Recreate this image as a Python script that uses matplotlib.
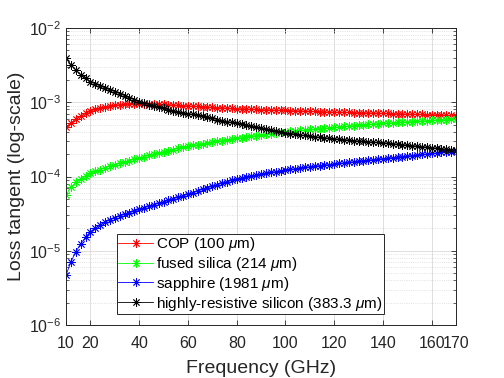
import numpy as np
import matplotlib
matplotlib.use("Agg")
import matplotlib.pyplot as plt
from matplotlib.ticker import LogLocator, NullFormatter, FixedLocator

plt.rcParams['font.family'] = ['Liberation Sans', 'DejaVu Sans']
plt.rcParams['mathtext.fontset'] = 'custom'
plt.rcParams['mathtext.rm'] = 'Liberation Sans'
plt.rcParams['mathtext.it'] = 'Liberation Sans:italic'

freq = np.arange(10, 171, 2)  # GHz

cop = [4.6, 5.3, 5.95, 6.5, 7.1, 7.6, 8.0, 8.35, 8.65, 8.9, 9.1, 9.3, 9.45, 9.55, 9.6, 9.6,
       9.58, 9.55, 9.5, 9.42, 9.35, 9.27, 9.19, 9.11, 9.03, 8.95, 8.87, 8.79, 8.71, 8.63, 8.55,
       8.48, 8.41, 8.34, 8.27, 8.2, 8.15, 8.1, 8.05, 8.0, 7.95, 7.91, 7.87, 7.83, 7.79, 7.75,
       7.71, 7.67, 7.63, 7.59, 7.55, 7.51, 7.47, 7.43, 7.39, 7.35, 7.33, 7.31, 7.29, 7.27, 7.25,
       7.22, 7.19, 7.16, 7.13, 7.1, 7.07, 7.04, 7.01, 6.98, 6.95, 6.92, 6.89, 6.86, 6.83, 6.8,
       6.76, 6.72, 6.68, 6.64, 6.6]  # x1e-4

fused_silica = [0.56, 0.72, 0.84, 0.94, 1.03, 1.10, 1.17, 1.24, 1.31, 1.38, 1.45, 1.51, 1.58,
                1.64, 1.71, 1.78, 1.85, 1.93, 2.00, 2.08, 2.15, 2.23, 2.31, 2.39, 2.47, 2.55,
                2.62, 2.69, 2.76, 2.83, 2.90, 2.97, 3.05, 3.12, 3.20, 3.27, 3.34, 3.41, 3.49,
                3.56, 3.63, 3.70, 3.78, 3.85, 3.93, 4.00, 4.06, 4.12, 4.18, 4.24, 4.30, 4.36,
                4.42, 4.48, 4.54, 4.60, 4.66, 4.72, 4.78, 4.84, 4.90, 4.96, 5.02, 5.08, 5.14,
                5.20, 5.25, 5.30, 5.35, 5.40, 5.45, 5.50, 5.55, 5.60, 5.65, 5.70, 5.74, 5.78,
                5.82, 5.86, 5.90]  # x1e-4

sapphire = [0.47, 0.71, 0.97, 1.24, 1.52, 1.80, 2.02, 2.23, 2.43, 2.62, 2.80, 2.95, 3.10, 3.26,
            3.43, 3.60, 3.79, 3.98, 4.17, 4.37, 4.58, 4.80, 5.03, 5.27, 5.52, 5.78, 6.09, 6.40,
            6.72, 7.05, 7.40, 7.76, 8.12, 8.49, 8.87, 9.25, 9.55, 9.85, 10.15, 10.45, 10.75,
            11.05, 11.35, 11.65, 11.95, 12.25, 12.5, 12.75, 13.0, 13.25, 13.5, 13.75, 14.0,
            14.25, 14.5, 14.75, 15.0, 15.25, 15.5, 15.78, 16.05, 16.33, 16.61, 16.89, 17.17,
            17.45, 17.73, 18.01, 18.29, 18.57, 18.85, 19.17, 19.49, 19.81, 20.13, 20.45, 20.76,
            21.07, 21.38, 21.69, 22.0]  # x1e-5

hr_silicon = [39, 32, 27, 23.5, 21, 19, 17.7, 16.6, 15.6, 14.7, 13.9, 13.1, 12.3, 11.5, 10.8,
              10.2, 9.75, 9.3, 8.9, 8.55, 8.25, 7.95, 7.7, 7.45, 7.25, 7.05, 6.85, 6.65, 6.45,
              6.25, 6.05, 5.85, 5.67, 5.5, 5.35, 5.2, 5.05, 4.9, 4.75, 4.6, 4.45, 4.32, 4.2,
              4.08, 3.96, 3.85, 3.78, 3.71, 3.64, 3.57, 3.5, 3.44, 3.38, 3.33, 3.28, 3.22, 3.18,
              3.14, 3.1, 3.05, 3.0, 2.97, 2.94, 2.91, 2.88, 2.85, 2.81, 2.77, 2.73, 2.69, 2.65,
              2.61, 2.57, 2.53, 2.49, 2.45, 2.41, 2.37, 2.34, 2.30, 2.27]  # x1e-4

labels = ['COP (100 $\\mu$m)', 'fused silica (214 $\\mu$m)', 'sapphire (1981 $\\mu$m)',
          'highly-resistive silicon (383.3 $\\mu$m)']
xticks = [10, 20, 40, 60, 80, 100, 120, 140, 160, 170]

fig = plt.figure(figsize=(5.04, 3.78), dpi=100)
ax = fig.add_axes([0.131, 0.140, 0.774, 0.786])

series = [(np.array(cop) * 1e-4, (1, 0, 0)),
          (np.array(fused_silica) * 1e-4, (0, 1, 0)),
          (np.array(sapphire) * 1e-5, (0, 0, 1)),
          (np.array(hr_silicon) * 1e-4, (0, 0, 0))]
asterisk = (8, 2, 0)
for (vals, col), lab in zip(series, labels):
    ax.plot(freq, vals, color=col, lw=0.6, marker=asterisk, markersize=6,
            markeredgewidth=0.6, label=lab)

ax.set_yscale('log')
ax.set_xlim(10, 170)
ax.set_ylim(1e-6, 1e-2)
ax.xaxis.set_major_locator(FixedLocator(xticks))
ax.set_xticklabels([str(t) for t in xticks])
ax.yaxis.set_major_locator(LogLocator(base=10, numticks=10))
ax.yaxis.set_minor_locator(LogLocator(base=10, subs=np.arange(2, 10), numticks=20))
ax.yaxis.set_minor_formatter(NullFormatter())

grey = (0.15, 0.15, 0.15)
ax.grid(True, which='major', color=(0.85, 0.85, 0.85), lw=0.6)
ax.grid(True, which='minor', axis='y', color=(0.85, 0.85, 0.85), lw=0.6, ls=':')
ax.set_axisbelow(True)
ax.tick_params(which='both', direction='in', top=True, right=True, colors=grey,
               labelcolor=grey, labelsize=11.5)
ax.tick_params(which='major', length=3.5, width=0.6)
ax.tick_params(which='minor', length=2, width=0.5)
ax.tick_params(axis='x', which='major', pad=8)
for s in ax.spines.values():
    s.set_color(grey)
    s.set_linewidth(0.7)

ax.set_xlabel('Frequency (GHz)', fontsize=14, color=grey, labelpad=6)
ax.set_ylabel('Loss tangent (log-scale)', fontsize=14, color=grey, labelpad=3)

leg = ax.legend(loc='lower left', bbox_to_anchor=(0.13, 0.037), fontsize=11,
                frameon=True, fancybox=False, borderpad=0.1, labelspacing=0.12,
                handlelength=2.3, handletextpad=0.2, borderaxespad=0)
leg.get_frame().set_edgecolor(grey)
leg.get_frame().set_linewidth(0.7)
leg.get_frame().set_alpha(1)

fig.savefig('out.png', dpi=100)
